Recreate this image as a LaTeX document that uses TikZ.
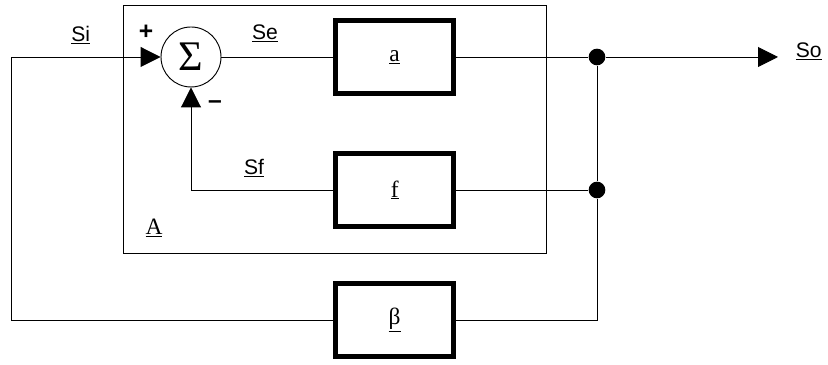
\documentclass[tikz,border=0pt]{standalone}
\usepackage{fontspec}
\setmainfont{Liberation Serif}
\setsansfont{Liberation Sans}
\usetikzlibrary{arrows.meta}

\begin{document}
\begin{tikzpicture}[
  block/.style={draw,line width=4.5pt,minimum width=3.54cm,minimum height=2.2cm,font=\fontsize{20}{24}\selectfont},
  dot/.style={circle,fill,inner sep=0pt,minimum size=0.5cm},
  sig/.style={line width=0.8pt},
  tip/.style={sig,-{Triangle[length=0.6cm,width=0.6cm]}},
  lbl/.style={font=\sffamily\fontsize{18}{21}\selectfont},
  sgn/.style={font=\sffamily\bfseries\fontsize{21}{24}\selectfont}
]
\useasboundingbox (0,0) rectangle (24.84,10.95);
\draw[sig] (3.69,3.36) rectangle (16.38,10.8);
\node[circle,draw,sig,minimum size=1.8cm,inner sep=0pt,font=\fontsize{36}{36}\selectfont] (sum) at (5.73,9.24) {Σ};
\node[block] (a) at (11.84,9.24) {\underline{a}};
\node[block] (f) at (11.84,5.25) {\underline{f}};
\node[block] (beta) at (11.84,1.35) {\underline{β}};
\node[dot] (d1) at (17.91,9.24) {};
\node[dot] (d2) at (17.91,5.25) {};
\coordinate (si) at (0.33,9.24);
\coordinate (so) at (23.34,9.24);
\node[lbl] (si-l) at (2.42,9.9) {\underline{Si}};
\node[lbl] (se-l) at (7.95,9.96) {\underline{Se}};
\node[lbl] (so-l) at (24.26,9.4) {\underline{So}};
\node[lbl] (sf-l) at (7.62,5.91) {\underline{Sf}};
\node[font=\fontsize{20}{24}\selectfont] (A-l) at (4.62,4.11) {\underline{A}};
\node[sgn] (plus) at (4.38,9.98) {+};
\node[sgn] (minus) at (6.45,7.8) {--};
\draw[tip] (beta) -| (si) -- (sum);
\draw[sig] (sum) -- (a);
\draw[sig] (a) -- (d1);
\draw[tip] (d1) -- (so);
\draw[sig] (d1) -- (d2);
\draw[sig] (f) -- (d2);
\draw[sig] (d2) |- (beta);
\draw[tip] (f) -| (sum);
\end{tikzpicture}
\end{document}
